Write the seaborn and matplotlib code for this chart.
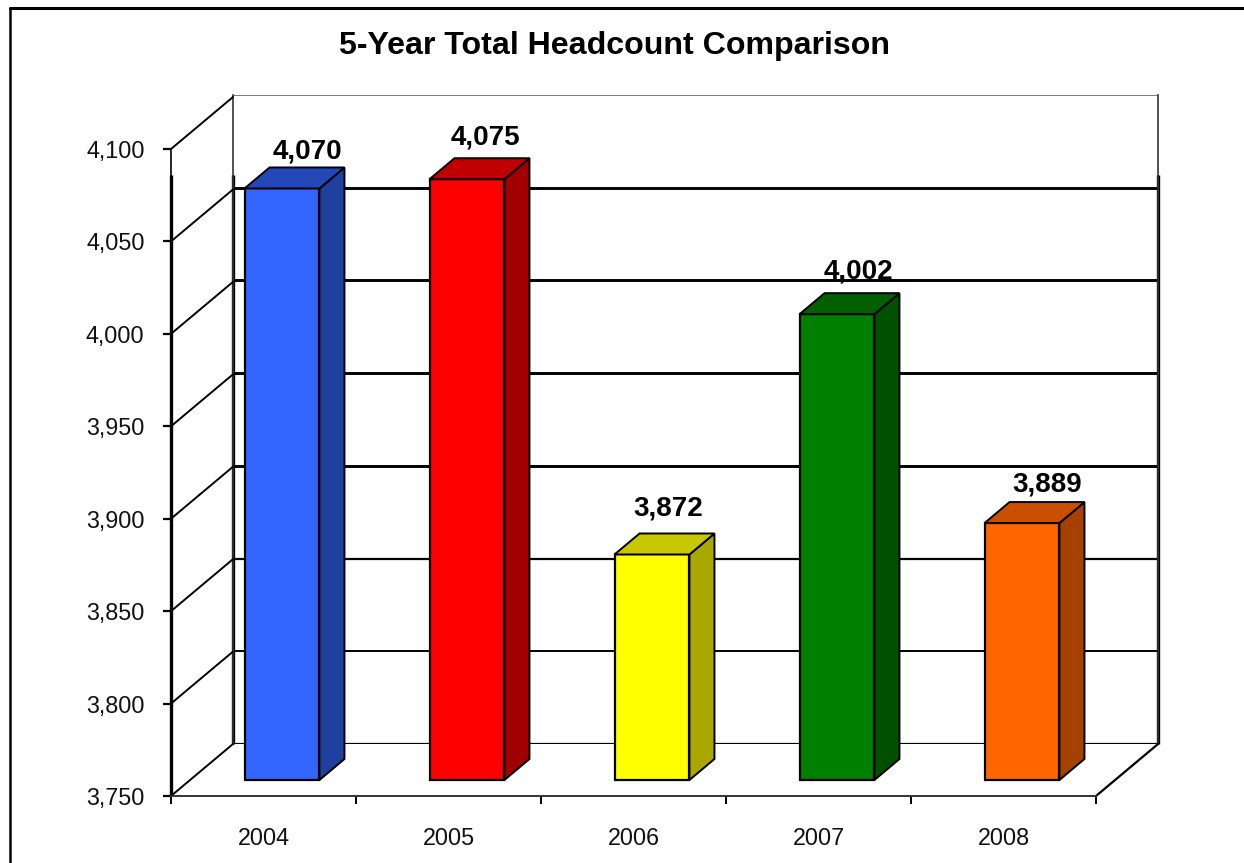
import matplotlib
matplotlib.use("Agg")
import matplotlib.pyplot as plt
import seaborn as sns
from matplotlib.lines import Line2D
from matplotlib.patches import Polygon
from matplotlib.ticker import FuncFormatter

years = ["2004", "2005", "2006", "2007", "2008"]
headcount = [4070, 4075, 3872, 4002, 3889]
y_ticks = [3750, 3800, 3850, 3900, 3950, 4000, 4050, 4100]

front_colors = ["#3366FF", "#FF0000", "#FFFF00", "#008000", "#FF6600"]
side_colors = ["#2040A0", "#A00000", "#A8A800", "#005000", "#A64200"]
top_colors = ["#2448B8", "#C00000", "#C8C800", "#006000", "#C85000"]
grid_widths = [1.6, 1.4, 1.6, 2.1, 2.1, 2.1, 2.1, 1.2]
# the value labels do not sit evenly above the bars in the original (pixels, + is down)
label_dx = [0, -7, -9, -4, 0]
label_dy = [5, 0, -4, -1, 3]

W, H = 1244, 863
Y_MIN, Y_MAX = 3750, 4100


def axes_px(fig, left, right, bottom, top):
    # pixel box of the reference -> figure fractions
    return fig.add_axes([left / W, 1 - bottom / H, (right - left) / W, (bottom - top) / H])


sns.set_theme(style="white")
plt.rcParams["font.family"] = ["Liberation Sans", "DejaVu Sans"]

fig = plt.figure(figsize=(W / 100, H / 100), dpi=100)

# back wall
ax_wall = axes_px(fig, 233, 1158, 744, 95)
ax_wall.set_xlim(-0.5, 4.5)
ax_wall.set_ylim(Y_MIN, Y_MAX)
ax_wall.set_xticks([])
ax_wall.set_yticks(y_ticks)
ax_wall.tick_params(left=False, labelleft=False)
ax_wall.grid(axis="y", color="black")
for line, lw in zip(ax_wall.get_ygridlines(), grid_widths):
    line.set_linewidth(lw)
ax_wall.get_ygridlines()[-1].set_color("#666666")
for side in ["top", "bottom"]:
    ax_wall.spines[side].set_visible(False)
for side in ["left", "right"]:
    ax_wall.spines[side].set_color("#333333")
    ax_wall.spines[side].set_linewidth(1.2)
ax_wall.vlines([-0.5, 4.5], Y_MIN, 4057, color="black", lw=2.4, clip_on=False)

# front plane carries the axis labels
ax_front = axes_px(fig, 171, 1096, 796, 149)
ax_front.patch.set_visible(False)
ax_front.set_xlim(-0.5, 4.5)
ax_front.set_ylim(Y_MIN, Y_MAX)
ax_front.set_yticks(y_ticks)
ax_front.yaxis.set_major_formatter(FuncFormatter(lambda v, _: f"{int(v):,}"))
ax_front.set_xticks([i - 0.5 for i in range(6)])
ax_front.set_xticklabels([])
ax_front.set_xticks(range(5), labels=years, minor=True)
ax_front.tick_params(axis="y", which="major", left=True, length=6, width=1.6, labelsize=16.8,
                     pad=13, color="black", labelcolor="#111111")
ax_front.tick_params(axis="x", which="major", bottom=True, length=6, width=1.4, color="black")
ax_front.tick_params(axis="x", which="minor", bottom=False, labelsize=16.8, pad=18.5, labelcolor="#111111")
for side in ["top", "right"]:
    ax_front.spines[side].set_visible(False)
ax_front.spines["left"].set_color("black")
ax_front.spines["left"].set_linewidth(1.2)
ax_front.spines["bottom"].set_color("#333333")
ax_front.spines["bottom"].set_linewidth(1.4)
ax_front.vlines(-0.5, Y_MIN, 4086, color="black", lw=2.4, clip_on=False)

# side wall and floor lines running from the front plane to the back wall
wall_dx = 62 / 185
wall_dy = 52 / 1.849
for t in y_ticks:
    ax_front.plot([-0.5, -0.5 + wall_dx], [t, t + wall_dy], color="black", lw=1.4, clip_on=False)
ax_front.plot([4.5, 4.5 + wall_dx], [Y_MIN, Y_MIN + wall_dy], color="black", lw=1.6, clip_on=False)

# bars sit slightly behind the front plane
ax_bars = axes_px(fig, 189.5, 1114.5, 780, 133)
ax_bars.patch.set_visible(False)
sns.barplot(x=years, y=headcount, hue=years, palette=front_colors, legend=False, width=0.405,
            edgecolor="black", linewidth=1.6, saturation=1, ax=ax_bars)
ax_bars.set_xlim(-0.5, 4.5)
ax_bars.set_ylim(Y_MIN, Y_MAX)
ax_bars.axis("off")

depth_x = 25 / 185
depth_y = 21 / 1.849
for i, (patch, value) in enumerate(zip(ax_bars.patches, headcount)):
    patch.set_y(Y_MIN)
    patch.set_height(value - Y_MIN)
    patch.set_clip_on(False)
    x0 = patch.get_x()
    x1 = x0 + patch.get_width()
    side_face = [(x1, Y_MIN), (x1, value), (x1 + depth_x, value + depth_y), (x1 + depth_x, Y_MIN + depth_y)]
    top_face = [(x0, value), (x1, value), (x1 + depth_x, value + depth_y), (x0 + depth_x, value + depth_y)]
    ax_bars.add_patch(Polygon(side_face, closed=True, facecolor=side_colors[i], edgecolor="black", lw=1.4, clip_on=False))
    ax_bars.add_patch(Polygon(top_face, closed=True, facecolor=top_colors[i], edgecolor="black", lw=1.4, clip_on=False))
    ax_bars.annotate(f"{value:,}", ((x0 + x1) / 2 + depth_x, value + depth_y),
                     xytext=(label_dx[i] * 0.72, 15 - label_dy[i] * 0.72),
                     textcoords="offset points", ha="center", va="center",
                     fontsize=20, fontweight="bold", color="black", annotation_clip=False)

fig.text(614.5 / W, 1 - 46 / H, "5-Year Total Headcount Comparison", ha="center", va="center",
         fontsize=23.1, fontweight="bold", color="black")

# chart frame, only the top and left edges are in view
fig.add_artist(Line2D([10 / W, 1], [1 - 8 / H, 1 - 8 / H], color="black", lw=2.2))
fig.add_artist(Line2D([10 / W, 10 / W], [1 - 8 / H, 0], color="black", lw=1.8))

fig.savefig("out.png", dpi=100)
